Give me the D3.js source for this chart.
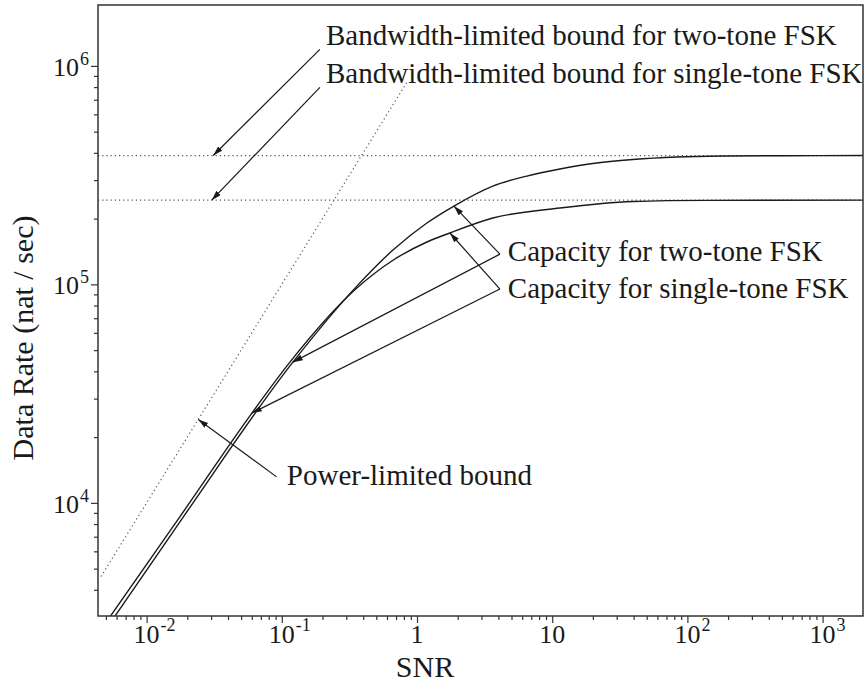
<!DOCTYPE html>
<html>
<head>
<meta charset="utf-8">
<script src="https://cdn.jsdelivr.net/npm/d3@7"></script>
<style>
  body { margin: 0; background: #fff; }
  text { font-family: "Liberation Serif", "Times New Roman", serif; fill: #1a1a1a; }
</style>
</head>
<body>
<div id="chart"></div>
<script>
// ---- data ----
const snrTwoTone = [0.0053, 0.0187, 0.1208, 0.359, 0.664, 1.184, 1.875, 3.64, 6.5, 11.4, 20, 39.5, 83.6, 196, 500, 2000];
const rateTwoTone = [2780, 8630, 44060, 98200, 143600, 190900, 228300, 281800, 313200, 337200, 357400, 372800, 382800, 386900, 388200, 388800];

const snrSingleTone = [0.0049, 0.0176, 0.0601, 0.1148, 0.359, 0.664, 1.184, 1.751, 3.64, 11.4, 39.5, 139, 2000];
const rateSingleTone = [2780, 8630, 25760, 44060, 96200, 129000, 156300, 171900, 201200, 223600, 239500, 242300, 243000];

const powerSnr = [0.0046, 0.84];
const powerRate = [4600, 840000];

const bandwidthRates = [388800, 243000];

const xTickValues = [0.01, 0.1, 1, 10, 100, 1000];
const xTickBase = ["10", "10", "1", "10", "10", "10"];
const xTickExp = ["-2", "-1", "", "", "2", "3"];
const yTickValues = [1e4, 1e5, 1e6];
const yTickBase = ["10", "10", "10"];
const yTickExp = ["4", "5", "6"];

const labelTexts = [
  "Bandwidth-limited bound for two-tone FSK",
  "Bandwidth-limited bound for single-tone FSK",
  "Capacity for two-tone FSK",
  "Capacity for single-tone FSK",
  "Power-limited bound"
];
const labelSnr = [0.2124, 0.2124, 4.70, 4.70, 0.109];
const labelRate = [1.246e6, 8.39e5, 1.279e5, 86500, 12050];
const vertexSnr = [0.1913, 0.1913, 4.105, 4.105, 0.0915];
const vertexRate = [1.191e6, 7.98e5, 1.376e5, 95170, 13150];
const tipSnr = [[0.0311], [0.0303], [1.875, 0.1208], [1.751, 0.0601], [0.0241]];
const tipRate = [[388800], [243000], [228300, 44060], [171900, 25760], [24100]];

// ---- layout ----
const W = 865, H = 686;
const margin = { top: 5, right: 2, bottom: 70, left: 98 };

const svg = d3.select("#chart").append("svg")
  .attr("width", W).attr("height", H);

const x = d3.scaleLog().domain([0.00437, 1990]).range([margin.left, W - margin.right]);
const y = d3.scaleLog().domain([3035, 1.9e6]).range([H - margin.bottom, margin.top]);

const defs = svg.append("defs");
defs.append("clipPath").attr("id", "plot-clip")
  .append("rect")
  .attr("x", margin.left).attr("y", margin.top)
  .attr("width", W - margin.left - margin.right)
  .attr("height", H - margin.top - margin.bottom);

defs.append("marker")
  .attr("id", "arrow")
  .attr("markerUnits", "userSpaceOnUse")
  .attr("markerWidth", 12).attr("markerHeight", 8)
  .attr("refX", 10).attr("refY", 3)
  .attr("orient", "auto")
  .append("path")
  .attr("d", "M0,0 L10,3 L0,6 z")
  .attr("fill", "#1a1a1a");

// ---- axes (ticks outward) ----
const xMinor = x.ticks().filter(v => !xTickValues.some(t => Math.abs(t - v) / t < 1e-6));
const yMinor = y.ticks().filter(v => !yTickValues.some(t => Math.abs(t - v) / t < 1e-6));

function styleAxis(g) {
  g.select(".domain").remove();
  g.selectAll(".tick line").attr("stroke", "#333").attr("stroke-width", 1.2);
  g.selectAll(".tick text").remove();
}

svg.append("g")
  .attr("transform", `translate(0,${H - margin.bottom})`)
  .call(d3.axisBottom(x).tickValues(xMinor).tickSize(4))
  .call(styleAxis);
svg.append("g")
  .attr("transform", `translate(0,${H - margin.bottom})`)
  .call(d3.axisBottom(x).tickValues(xTickValues).tickSize(7))
  .call(styleAxis);
svg.append("g")
  .attr("transform", `translate(${margin.left},0)`)
  .call(d3.axisLeft(y).tickValues(yMinor).tickSize(4))
  .call(styleAxis);
svg.append("g")
  .attr("transform", `translate(${margin.left},0)`)
  .call(d3.axisLeft(y).tickValues(yTickValues).tickSize(7))
  .call(styleAxis);

// x tick labels: "10" centred on the tick, exponent to its right
xTickValues.forEach((v, i) => {
  const base = svg.append("text")
    .attr("x", x(v)).attr("y", 643)
    .attr("text-anchor", "middle")
    .style("font-size", "26px")
    .text(xTickBase[i]);
  if (xTickExp[i]) {
    const w = base.node().getComputedTextLength();
    svg.append("text")
      .attr("x", x(v) + w / 2 + 1).attr("y", 631)
      .style("font-size", "18px")
      .text(xTickExp[i]);
  }
});

// y tick labels
yTickValues.forEach((v, i) => {
  svg.append("text")
    .attr("x", 79).attr("y", y(v) + 10)
    .attr("text-anchor", "end")
    .style("font-size", "26px")
    .text(yTickBase[i]);
  svg.append("text")
    .attr("x", 80).attr("y", y(v) - 1)
    .style("font-size", "18px")
    .text(yTickExp[i]);
});

// axis titles
svg.append("text")
  .attr("x", 425).attr("y", 677)
  .attr("text-anchor", "middle")
  .style("font-size", "30px")
  .text("SNR");
svg.append("text")
  .attr("transform", "translate(33,338) rotate(-90)")
  .attr("text-anchor", "middle")
  .style("font-size", "30px")
  .text("Data Rate (nat / sec)");

// ---- plot contents ----
const plot = svg.append("g").attr("clip-path", "url(#plot-clip)");

// bandwidth-limited bounds
plot.selectAll(".bw-line")
  .data(bandwidthRates)
  .enter().append("line")
  .attr("class", "bw-line")
  .attr("x1", margin.left).attr("x2", W - margin.right)
  .attr("y1", d => y(d)).attr("y2", d => y(d))
  .attr("stroke", "#555").attr("stroke-width", 1.2)
  .attr("stroke-dasharray", "1.2,3");

// power-limited bound
const line = d3.line().x(d => x(d[0])).y(d => y(d[1]));
plot.append("path")
  .datum(powerSnr.map((s, i) => [s, powerRate[i]]))
  .attr("d", line)
  .attr("fill", "none")
  .attr("stroke", "#555").attr("stroke-width", 1.2)
  .attr("stroke-dasharray", "1.2,3");

// capacity curves
const curve = d3.line().x(d => x(d[0])).y(d => y(d[1])).curve(d3.curveMonotoneX);
[[snrTwoTone, rateTwoTone], [snrSingleTone, rateSingleTone]].forEach(([s, r]) => {
  plot.append("path")
    .datum(s.map((v, i) => [v, r[i]]))
    .attr("d", curve)
    .attr("fill", "none")
    .attr("stroke", "#1a1a1a").attr("stroke-width", 1.4);
});

// frame
svg.append("rect")
  .attr("x", margin.left).attr("y", margin.top)
  .attr("width", W - margin.left - margin.right)
  .attr("height", H - margin.top - margin.bottom)
  .attr("fill", "none")
  .attr("stroke", "#333").attr("stroke-width", 1.5);

// ---- annotations ----
labelTexts.forEach((t, i) => {
  tipSnr[i].forEach((s, j) => {
    svg.append("line")
      .attr("x1", x(vertexSnr[i])).attr("y1", y(vertexRate[i]))
      .attr("x2", x(s)).attr("y2", y(tipRate[i][j]))
      .attr("stroke", "#1a1a1a").attr("stroke-width", 1.2)
      .attr("marker-end", "url(#arrow)");
  });
  svg.append("text")
    .attr("x", x(labelSnr[i])).attr("y", y(labelRate[i]))
    .style("font-size", "29px")
    .text(t);
});
</script>
</body>
</html>
